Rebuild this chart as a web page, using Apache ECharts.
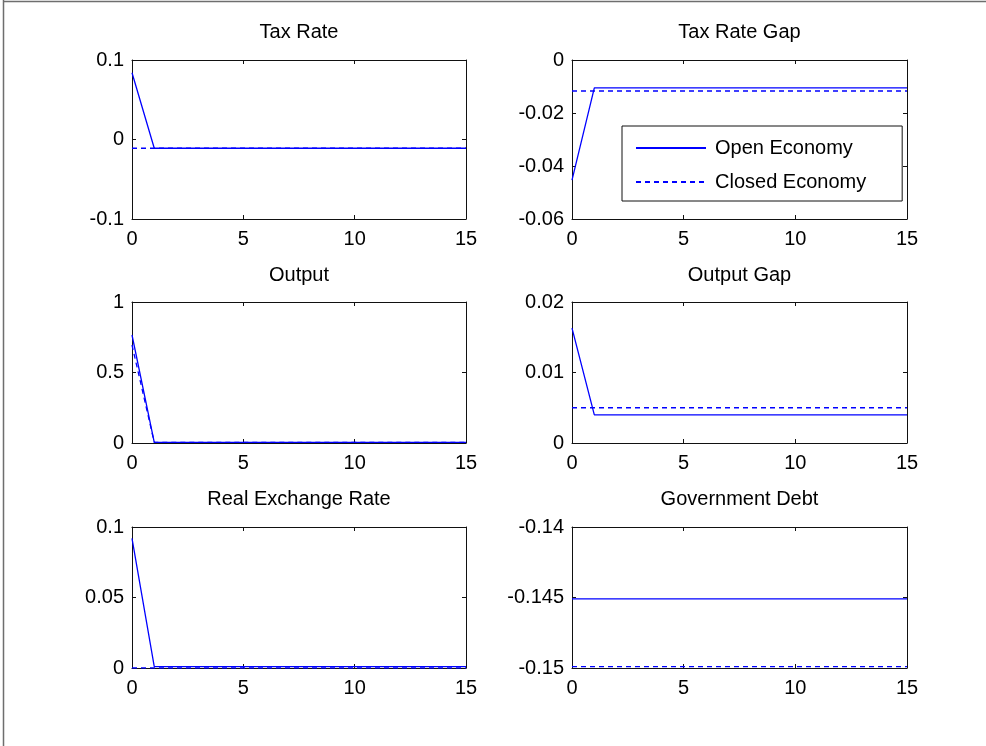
<!DOCTYPE html>
<html>
<head>
<meta charset="utf-8">
<script src="https://cdn.jsdelivr.net/npm/echarts@6/dist/echarts.min.js"></script>
<style>
html,body{margin:0;padding:0;background:#fff;}
#chart{width:986px;height:746px;}
</style>
</head>
<body>
<div id="chart"></div>
<script>
// ---------------- data ----------------
const periods = [0,1,2,3,4,5,6,7,8,9,10,11,12,13,14,15];
const titles = ['Tax Rate','Tax Rate Gap','Output','Output Gap','Real Exchange Rate','Government Debt'];
const seriesNames = ['Open Economy','Closed Economy'];

const taxRateOpen    = [0.084,-0.011,-0.011,-0.011,-0.011,-0.011,-0.011,-0.011,-0.011,-0.011,-0.011,-0.011,-0.011,-0.011,-0.011,-0.011];
const taxRateClosed  = [-0.011,-0.011,-0.011,-0.011,-0.011,-0.011,-0.011,-0.011,-0.011,-0.011,-0.011,-0.011,-0.011,-0.011,-0.011,-0.011];
const taxGapOpen     = [-0.0453,-0.0105,-0.0105,-0.0105,-0.0105,-0.0105,-0.0105,-0.0105,-0.0105,-0.0105,-0.0105,-0.0105,-0.0105,-0.0105,-0.0105,-0.0105];
const taxGapClosed   = [-0.0117,-0.0117,-0.0117,-0.0117,-0.0117,-0.0117,-0.0117,-0.0117,-0.0117,-0.0117,-0.0117,-0.0117,-0.0117,-0.0117,-0.0117,-0.0117];
const outputOpen     = [0.766,0.004,0.004,0.004,0.004,0.004,0.004,0.004,0.004,0.004,0.004,0.004,0.004,0.004,0.004,0.004];
const outputClosed   = [0.695,0.004,0.004,0.004,0.004,0.004,0.004,0.004,0.004,0.004,0.004,0.004,0.004,0.004,0.004,0.004];
const outputGapOpen  = [0.0163,0.004,0.004,0.004,0.004,0.004,0.004,0.004,0.004,0.004,0.004,0.004,0.004,0.004,0.004,0.004];
const outputGapClosed= [0.005,0.005,0.005,0.005,0.005,0.005,0.005,0.005,0.005,0.005,0.005,0.005,0.005,0.005,0.005,0.005];
const rerOpen        = [0.092,0.001,0.001,0.001,0.001,0.001,0.001,0.001,0.001,0.001,0.001,0.001,0.001,0.001,0.001,0.001];
const rerClosed      = [0,0,0,0,0,0,0,0,0,0,0,0,0,0,0,0];
const debtOpen       = [-0.1451,-0.1451,-0.1451,-0.1451,-0.1451,-0.1451,-0.1451,-0.1451,-0.1451,-0.1451,-0.1451,-0.1451,-0.1451,-0.1451,-0.1451,-0.1451];
const debtClosed     = [-0.1499,-0.1499,-0.1499,-0.1499,-0.1499,-0.1499,-0.1499,-0.1499,-0.1499,-0.1499,-0.1499,-0.1499,-0.1499,-0.1499,-0.1499,-0.1499];

const xTicks         = [0,5,10,15];
const taxRateTicks   = [-0.1,0,0.1];
const taxGapTicks    = [-0.06,-0.04,-0.02,0];
const outputTicks    = [0,0.5,1];
const outputGapTicks = [0,0.01,0.02];
const rerTicks       = [0,0.05,0.1];
const debtTicks      = [-0.15,-0.145,-0.14];

const panelData = [
  {open: taxRateOpen,   closed: taxRateClosed,   ticks: taxRateTicks},
  {open: taxGapOpen,    closed: taxGapClosed,    ticks: taxGapTicks},
  {open: outputOpen,    closed: outputClosed,    ticks: outputTicks},
  {open: outputGapOpen, closed: outputGapClosed, ticks: outputGapTicks},
  {open: rerOpen,       closed: rerClosed,       ticks: rerTicks},
  {open: debtOpen,      closed: debtClosed,      ticks: debtTicks}
];

// ---------------- layout / style ----------------
const FONT = '"Liberation Sans", Arial, sans-serif';
const FS = 20;
const layout = [
  {left:132, top:60,  width:334, height:159, titleTop:22},
  {left:572, top:60,  width:335, height:159, titleTop:22},
  {left:132, top:302, width:334, height:141, titleTop:265},
  {left:572, top:302, width:335, height:141, titleTop:265},
  {left:132, top:527, width:334, height:141, titleTop:489},
  {left:572, top:527, width:335, height:141, titleTop:489}
];
const BLUE = '#0000ff';

const grid = [], xAxis = [], yAxis = [], series = [], title = [];
panelData.forEach((p, i) => {
  const L = layout[i];
  grid.push({left:L.left, top:L.top, width:L.width, height:L.height, containLabel:false});
  title.push({
    text: titles[i], left: L.left + L.width/2, top: L.titleTop, textAlign:'center', padding:0,
    textStyle:{fontFamily:FONT, fontSize:FS, fontWeight:'normal', color:'#000'}
  });
  const xmin = xTicks[0], xmax = xTicks[xTicks.length-1], xint = xTicks[1]-xTicks[0];
  const ymin = p.ticks[0], ymax = p.ticks[p.ticks.length-1];
  const yint = +(p.ticks[1]-p.ticks[0]).toFixed(6);
  ['bottom','top'].forEach(pos => {
    xAxis.push({
      type:'value', gridIndex:i, position:pos, min:xmin, max:xmax, interval:xint,
      axisLine:{show:true, onZero:false, lineStyle:{color:'#111', width:1}},
      axisTick:{show:true, inside:true, length:4, lineStyle:{color:'#111'}},
      axisLabel:{show: pos==='bottom', margin:10, fontFamily:FONT, fontSize:FS, color:'#000'},
      splitLine:{show:false}
    });
  });
  ['left','right'].forEach(pos => {
    yAxis.push({
      type:'value', gridIndex:i, position:pos, min:ymin, max:ymax, interval:yint,
      axisLine:{show:true, onZero:false, lineStyle:{color:'#111', width:1}},
      axisTick:{show:true, inside:true, length:4, lineStyle:{color:'#111'}},
      axisLabel:{show: pos==='left', margin:8, fontFamily:FONT, fontSize:FS, color:'#000'},
      splitLine:{show:false}
    });
  });
  series.push({
    name: seriesNames[0], type:'line', xAxisIndex:2*i, yAxisIndex:2*i,
    data: periods.map((t,k) => [t, p.open[k]]),
    symbol:'none', lineStyle:{color:BLUE, width:1.3, type:'solid'}, itemStyle:{color:BLUE},
    z:3, animation:false
  });
  series.push({
    name: seriesNames[1], type:'line', xAxisIndex:2*i, yAxisIndex:2*i,
    data: periods.map((t,k) => [t, p.closed[k]]),
    symbol:'none', lineStyle:{color:BLUE, width:1.3, type:[5,4]}, itemStyle:{color:BLUE},
    z:3, animation:false
  });
});

const chart = echarts.init(document.getElementById('chart'), null, {renderer:'canvas'});
chart.setOption({
  backgroundColor:'#fff',
  animation:false,
  title: title,
  grid: grid,
  xAxis: xAxis,
  yAxis: yAxis,
  series: series,
  legend: {
    data: seriesNames,
    orient:'vertical',
    left:622, top:126,
    padding:[12,36,9,13],
    itemGap:14,
    itemWidth:70,
    itemHeight:14,
    backgroundColor:'#fff',
    borderColor:'#111',
    borderWidth:1,
    borderRadius:0,
    selectedMode:false,
    itemStyle:{opacity:0},
    textStyle:{fontFamily:FONT, fontSize:FS, color:'#000', padding:[0,0,0,4]},
    z:10
  },
  graphic: [
    {type:'line', shape:{x1:3.5, y1:0, x2:3.5, y2:746}, style:{stroke:'#6e6e6e', lineWidth:1.5}, silent:true},
    {type:'line', shape:{x1:3, y1:1.5, x2:986, y2:1.5}, style:{stroke:'#6e6e6e', lineWidth:1.5}, silent:true}
  ]
});
</script>
</body>
</html>
